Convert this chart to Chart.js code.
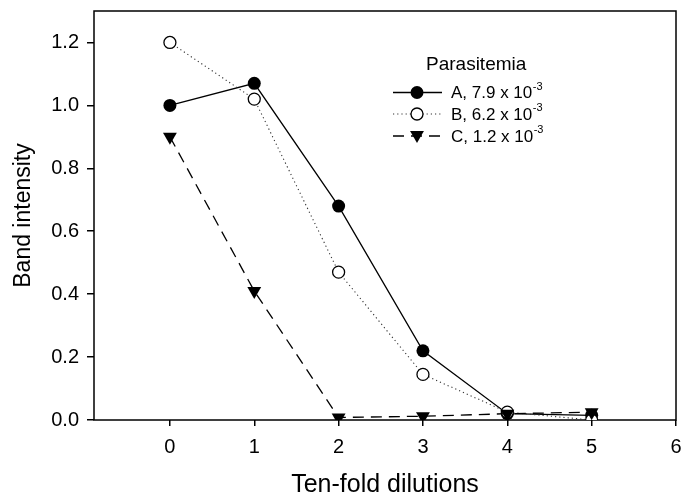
<!DOCTYPE html>
<html>
<head>
<meta charset="utf-8">
<script src="https://cdn.jsdelivr.net/npm/chart.js@4/dist/chart.umd.min.js"></script>
<style>
html,body{margin:0;padding:0;background:#fff;}
canvas{display:block;}
</style>
</head>
<body>
<canvas id="c" width="684" height="496"></canvas>
<script>
// ---- data ----
const dilutions = [0, 1, 2, 3, 4, 5];
const seriesA = [1.00, 1.07, 0.68, 0.22, 0.02, 0.015];
const seriesB = [1.20, 1.02, 0.47, 0.145, 0.025, 0.0];
const seriesC = [0.90, 0.41, 0.008, 0.012, 0.02, 0.025];
const labelA = 'A, 7.9 x 10';
const labelB = 'B, 6.2 x 10';
const labelC = 'C, 1.2 x 10';
const expText = '-3';
const legendTitle = 'Parasitemia';
const xTicks = [0, 1, 2, 3, 4, 5, 6];
const yTicks = [0.0, 0.2, 0.4, 0.6, 0.8, 1.0, 1.2];
const xTitle = 'Ten-fold dilutions';
const yTitle = 'Band intensity';

const FONT = "'Liberation Sans', Arial, sans-serif";
const toPts = (ys) => dilutions.map((x, i) => ({x: x, y: ys[i]}));

const styles = [
  {label: labelA, dash: [], width: 1.3, color: '#000', shape: 'circleFilled', order: 2},
  {label: labelB, dash: [1.2, 3], width: 1.1, color: '#333', shape: 'circleOpen', order: 1},
  {label: labelC, dash: [11, 7], width: 1.3, color: '#000', shape: 'triDown', order: 0}
];

function drawMarker(ctx, shape, x, y) {
  ctx.save();
  ctx.setLineDash([]);
  if (shape === 'circleFilled') {
    ctx.beginPath(); ctx.arc(x, y, 6.5, 0, Math.PI * 2);
    ctx.fillStyle = '#000'; ctx.fill();
  } else if (shape === 'circleOpen') {
    ctx.beginPath(); ctx.arc(x, y, 6, 0, Math.PI * 2);
    ctx.fillStyle = '#fff'; ctx.fill();
    ctx.lineWidth = 1.3; ctx.strokeStyle = '#000'; ctx.stroke();
  } else {
    const r = 8;
    ctx.beginPath();
    ctx.moveTo(x, y + r);
    ctx.lineTo(x - r * Math.sqrt(3) / 2, y - r / 2);
    ctx.lineTo(x + r * Math.sqrt(3) / 2, y - r / 2);
    ctx.closePath();
    ctx.fillStyle = '#000'; ctx.fill();
  }
  ctx.restore();
}

const framePlugin = {
  id: 'frame',
  beforeDatasetsDraw(chart) {
    const {ctx, chartArea: a} = chart;
    ctx.save();
    ctx.strokeStyle = '#000';
    ctx.lineWidth = 1.5;
    ctx.strokeRect(a.left, a.top, a.right - a.left, a.bottom - a.top);
    ctx.restore();
  }
};

const legendPlugin = {
  id: 'customLegend',
  afterDatasetsDraw(chart) {
    const ctx = chart.ctx;
    ctx.save();
    ctx.fillStyle = '#000';
    ctx.textBaseline = 'alphabetic';
    ctx.textAlign = 'left';
    ctx.font = '19px ' + FONT;
    ctx.fillText(legendTitle, 426, 70);
    const rows = [92.5, 114, 136];
    styles.forEach((s, i) => {
      const y = rows[i];
      ctx.save();
      ctx.strokeStyle = s.color;
      ctx.lineWidth = s.width;
      ctx.setLineDash(s.dash);
      ctx.beginPath();
      ctx.moveTo(393, y); ctx.lineTo(442, y);
      ctx.stroke();
      ctx.restore();
      drawMarker(ctx, s.shape, 417, s.shape === 'triDown' ? y - 1 : y);
      ctx.fillStyle = '#000';
      ctx.font = '17px ' + FONT;
      ctx.textBaseline = 'middle';
      ctx.fillText(s.label, 451, y + 1);
      const w = ctx.measureText(s.label).width;
      ctx.font = '11px ' + FONT;
      ctx.fillText(expText, 451 + w + 0.5, y - 6);
    });
    ctx.restore();
  }
};

const datasets = [seriesA, seriesB, seriesC].map((vals, i) => {
  const s = styles[i];
  const ds = {
    label: s.label,
    data: toPts(vals),
    order: s.order,
    borderColor: s.color,
    borderWidth: s.width,
    borderDash: s.dash,
    showLine: true,
    fill: false,
    tension: 0
  };
  if (s.shape === 'circleFilled') {
    Object.assign(ds, {pointStyle: 'circle', pointRadius: 6.5, pointBackgroundColor: '#000', pointBorderColor: '#000', pointBorderWidth: 0});
  } else if (s.shape === 'circleOpen') {
    Object.assign(ds, {pointStyle: 'circle', pointRadius: 6, pointBackgroundColor: '#fff', pointBorderColor: '#000', pointBorderWidth: 1.3});
  } else {
    Object.assign(ds, {pointStyle: 'triangle', pointRadius: 8, pointRotation: 180, pointBackgroundColor: '#000', pointBorderColor: '#000', pointBorderWidth: 0});
  }
  return ds;
});

new Chart(document.getElementById('c'), {
  type: 'scatter',
  data: {datasets: datasets},
  options: {
    responsive: false,
    animation: false,
    devicePixelRatio: 1,
    layout: {padding: {left: 0, right: 6, top: 11, bottom: 0}},
    plugins: {legend: {display: false}, tooltip: {enabled: false}},
    elements: {point: {hoverRadius: 6}},
    scales: {
      x: {
        type: 'linear',
        min: -0.9,
        max: 6,
        afterBuildTicks(scale) { scale.ticks = xTicks.map(v => ({value: v})); },
        afterFit(scale) { scale.height = 76; scale.paddingLeft = 0; scale.paddingRight = 0; },
        ticks: {
          color: '#000', padding: 9, maxRotation: 0, autoSkip: false,
          font: {family: FONT, size: 20, lineHeight: 1.2},
          callback: (v) => String(v)
        },
        grid: {display: true, drawOnChartArea: false, drawTicks: true, tickLength: 6, color: '#000', lineWidth: 1.5},
        border: {display: false},
        title: {
          display: true, text: xTitle, color: '#000',
          font: {family: FONT, size: 25, lineHeight: 1},
          padding: {top: 0, bottom: -2}
        }
      },
      y: {
        type: 'linear',
        min: 0,
        max: 1.3,
        afterBuildTicks(scale) { scale.ticks = yTicks.map(v => ({value: v})); },
        afterFit(scale) { scale.width = 94; scale.paddingTop = 0; scale.paddingBottom = 0; },
        ticks: {
          color: '#000', padding: 8,
          font: {family: FONT, size: 20},
          callback: (v) => Number(v).toFixed(1)
        },
        grid: {display: true, drawOnChartArea: false, drawTicks: true, tickLength: 7, color: '#000', lineWidth: 1.5},
        border: {display: false},
        title: {
          display: true, text: yTitle, color: '#000',
          font: {family: FONT, size: 23, lineHeight: 1},
          padding: {top: 12, bottom: 0}
        }
      }
    }
  },
  plugins: [framePlugin, legendPlugin]
});
</script>
</body>
</html>
